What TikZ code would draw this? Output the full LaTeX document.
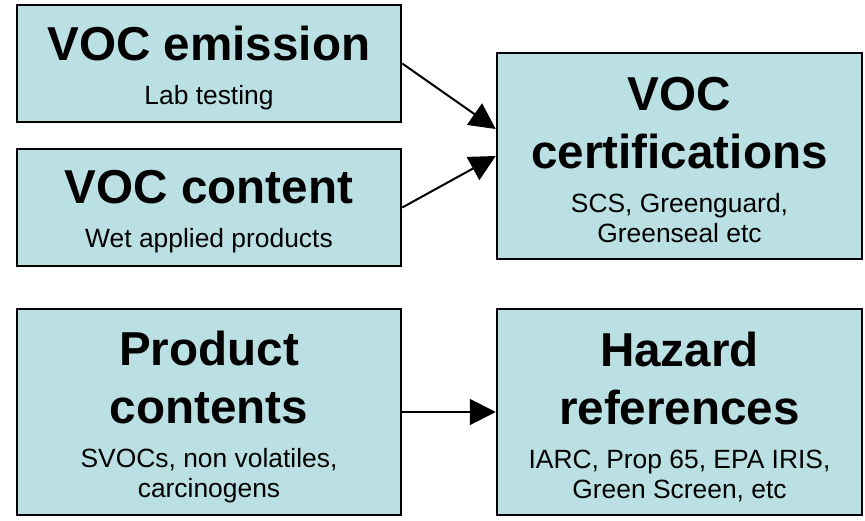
\documentclass[tikz,border=0pt]{standalone}
\usepackage{fontspec}
\setmainfont{Liberation Sans}
\usetikzlibrary{arrows.meta}
\definecolor{boxfill}{HTML}{BBE0E3}
\newcommand\ttlfont{\fontsize{47.6pt}{58pt}\selectfont\bfseries}
\newcommand\subfont{\fontsize{26.4pt}{30pt}\selectfont\mdseries}
\newcommand\boxtext[2]{\begin{minipage}{360pt}\centering\ttlfont #1\par\vspace{14pt}\subfont #2\par\end{minipage}}
\tikzset{
  card/.style={draw=black, line width=2.5pt, fill=boxfill, rectangle, inner sep=0pt},
  wide/.style={minimum width=384pt},
  narrow/.style={minimum width=365pt},
  short/.style={minimum height=117pt},
  tall/.style={minimum height=206pt},
  words/.style={inner sep=0pt, yshift=-4.5pt},
  link/.style={line width=2pt, -{Triangle[length=26pt,width=26pt]}}
}
\begin{document}
\begin{tikzpicture}[x=1pt,y=1pt]
\fill[white] (0,0) rectangle (865,-520);
\useasboundingbox (0,0) rectangle (865,-520);
\node[card,wide,short] (emis) at (209,-63.5) {};
\node[card,wide,short] (cont) at (209,-207.5) {};
\node[card,narrow,tall] (cert) at (679.5,-156) {};
\node[card,wide,tall] (prod) at (209,-412) {};
\node[card,narrow,tall] (haz) at (679.5,-412) {};
\node[words] (emisT) at (emis.center) {\boxtext{VOC emission}{Lab testing}};
\node[words] (contT) at (cont.center) {\boxtext{VOC content}{Wet applied products}};
\node[words] (certT) at (cert.center) {\boxtext{VOC\\certifications}{SCS, Greenguard,\\Greenseal etc}};
\node[words] (prodT) at (prod.center) {\boxtext{Product\\contents}{SVOCs, non volatiles,\\carcinogens}};
\node[words] (hazT) at (haz.center) {\boxtext{Hazard\\references}{IARC, Prop 65, EPA IRIS,\\Green Screen, etc}};
\draw[link] (emis.east) -- ([yshift=27pt]cert.west);
\draw[link] (cont.east) -- (cert.west);
\draw[link] (prod.east) -- (haz.west);
\end{tikzpicture}
\end{document}
